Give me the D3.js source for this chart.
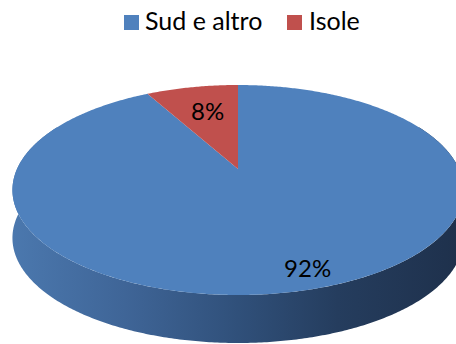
<!DOCTYPE html>
<html>
<head>
<meta charset="utf-8">
<script src="https://cdn.jsdelivr.net/npm/d3@7"></script>
<style>
  html, body { margin: 0; padding: 0; background: #fff; }
  svg { display: block; }
  text { font-family: Lato, "Open Sans", sans-serif; fill: #000; }
</style>
</head>
<body>
<svg id="chart" width="456" height="344"></svg>
<script>
// Data
const categories = ["Sud e altro", "Isole"];
const values = [92, 8];
const labels = ["92%", "8%"];
const colors = ["#4f81bd", "#c0504d"];

const width = 456, height = 344;
const svg = d3.select("#chart");

// 3D pie geometry (perspective-tilted disc)
const cx = 238, cy = 169;     // centre of the disc on screen
const Rx = 221, Ry = 100.8;   // radii before perspective
const persp = 0.2;            // perspective strength (far side shrinks)
const depth = 48;             // thickness of the disc

function project(a, r, down) {
  const x = Math.sin(a) * r, z = Math.cos(a) * r;
  const s = 1 / (1 + persp * z);
  return [cx + Rx * x * s, cy - Ry * z * s + (down || 0)];
}

const pie = d3.pie().sort(null).startAngle(0).endAngle(2 * Math.PI);
const arcs = pie(values);

function rimPoints(a0, a1, down) {
  const n = Math.max(8, Math.ceil(Math.abs(a1 - a0) / 0.01));
  return d3.range(n + 1).map(i => project(a0 + (a1 - a0) * i / n, 1, down));
}

const line = d3.line();

// Side shading
const defs = svg.append("defs");
const grad = defs.append("linearGradient")
  .attr("id", "side")
  .attr("gradientUnits", "userSpaceOnUse")
  .attr("x1", 12).attr("x2", 464).attr("y1", 0).attr("y2", 0);
[[0, "#4b78ae"], [0.25, "#3f6597"], [0.5, "#30507a"], [0.72, "#253d5e"], [1, "#1e304b"]]
  .forEach(([o, c]) => grad.append("stop").attr("offset", o).attr("stop-color", c));

// Front wall of the disc (back part is covered by the top faces)
const a0 = Math.PI * 0.35, a1 = Math.PI * 1.65;
const sidePts = rimPoints(a0, a1, 0).concat(rimPoints(a1, a0, depth));
svg.append("path")
  .attr("d", line(sidePts) + "Z")
  .attr("fill", "url(#side)");

// Top faces
svg.selectAll("path.slice")
  .data(arcs)
  .join("path")
  .attr("class", "slice")
  .attr("fill", (d, i) => colors[i])
  .attr("d", d => line([[cx, cy]].concat(rimPoints(d.startAngle, d.endAngle, 0))) + "Z");

// Percent labels
const labelPos = [{ shift: -0.06, r: 0.86 }, { shift: 0.02, r: 0.68 }];
svg.selectAll("text.pct")
  .data(arcs)
  .join("text")
  .attr("class", "pct")
  .attr("text-anchor", "middle")
  .attr("dominant-baseline", "central")
  .attr("font-size", 24)
  .attr("transform", (d, i) => {
    const mid = (d.startAngle + d.endAngle) / 2 + labelPos[i].shift;
    const p = project(mid, labelPos[i].r, 0);
    return `translate(${p[0]},${p[1]})`;
  })
  .text((d, i) => labels[i]);

// Legend
const legendItems = [
  { x: 124, tx: 145 },
  { x: 287, tx: 309 }
];
const legend = svg.append("g");
categories.forEach((c, i) => {
  legend.append("rect")
    .attr("x", legendItems[i].x).attr("y", 15)
    .attr("width", 15).attr("height", 15)
    .attr("fill", colors[i]);
  legend.append("text")
    .attr("x", legendItems[i].tx).attr("y", 30)
    .attr("font-size", 25)
    .text(c);
});
</script>
</body>
</html>
